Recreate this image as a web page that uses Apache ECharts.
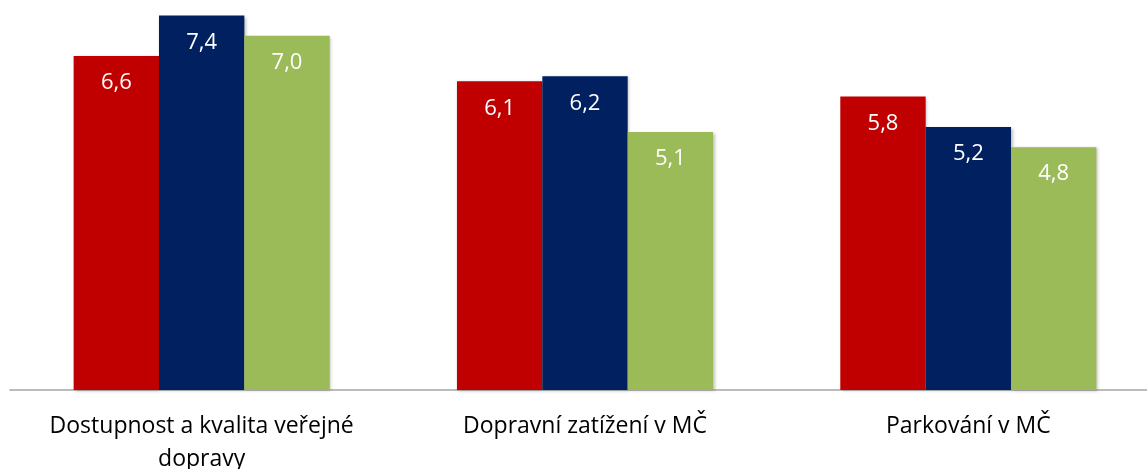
<!DOCTYPE html>
<html>
<head>
<meta charset="utf-8">
<title>Doprava</title>
<script src="https://cdn.jsdelivr.net/npm/echarts@6/dist/echarts.min.js"></script>
<style>
  html, body { margin: 0; padding: 0; background: #fff; }
  #chart { width: 1147px; height: 469px; }
</style>
</head>
<body>
<div id="chart"></div>
<script>
  // data
  var categories = ['Dostupnost a kvalita veřejné\ndopravy', 'Dopravní zatížení v MČ', 'Parkování v MČ']
  var seriesA = [6.6, 6.1, 5.8]
  var seriesB = [7.4, 6.2, 5.2]
  var seriesC = [7.0, 5.1, 4.8]
  var colors = ['#C00000', '#002060', '#9BBB59']

  var font = '"Open Sans", sans-serif'

  function makeSeries(data, color) {
    return {
      type: 'bar',
      data: data,
      barGap: '0%',
      barCategoryGap: '33.2%',
      itemStyle: {
        color: color,
        shadowColor: 'rgba(0,0,0,0.25)',
        shadowBlur: 3,
        shadowOffsetX: 1.5,
        shadowOffsetY: 1
      },
      label: {
        show: true,
        position: 'insideTop',
        distance: 16,
        color: '#fff',
        fontFamily: font,
        fontSize: 22,
        formatter: function (p) { return p.value.toFixed(1).replace('.', ',') }
      }
    }
  }

  var myChart = echarts.init(document.getElementById('chart'))
  var option = {
    animation: false,
    grid: { left: 10, width: 1150, top: 15.6, bottom: 79, outerBoundsMode: 'none', containLabel: false },
    xAxis: {
      type: 'category',
      data: categories,
      axisTick: { show: false },
      axisLine: { lineStyle: { color: '#A6A6A6', width: 1.5 } },
      axisLabel: {
        color: '#000',
        fontFamily: font,
        fontSize: 23,
        lineHeight: 33,
        margin: 20,
        interval: 0
      }
    },
    yAxis: {
      type: 'value',
      min: 0,
      max: 7.4,
      show: false,
      splitLine: { show: false }
    },
    series: [
      makeSeries(seriesA, colors[0]),
      makeSeries(seriesB, colors[1]),
      makeSeries(seriesC, colors[2])
    ]
  }
  myChart.setOption(option)
</script>
</body>
</html>
